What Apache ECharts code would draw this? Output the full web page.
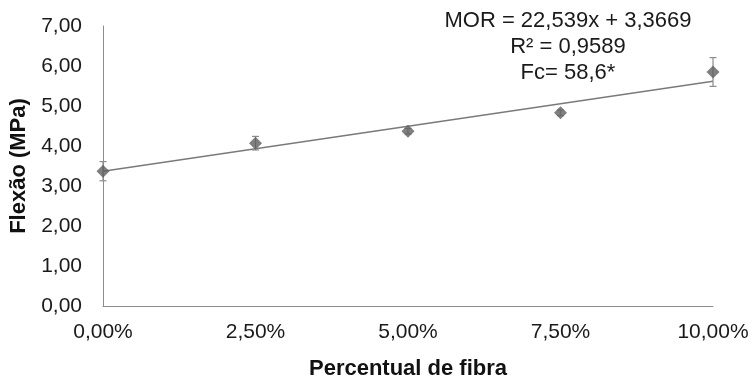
<!DOCTYPE html>
<html>
<head>
<meta charset="utf-8">
<script src="https://cdn.jsdelivr.net/npm/echarts@6/dist/echarts.min.js"></script>
<style>
html,body{margin:0;padding:0;background:#fff;}
#c{width:754px;height:385px;}
</style>
</head>
<body>
<div id="c"></div>
<script>
// Data
const fiberPct = [0, 2.5, 5, 7.5, 10];           // Percentual de fibra (%)
const flexMean = [3.37, 4.07, 4.37, 4.83, 5.85];  // Flexão (MPa)
const flexErr  = [0.24, 0.17, 0.07, 0.07, 0.36];  // error bar half-width (MPa)
const trendSlope = 22.539;      // MOR = 22,539x + 3,3669 (x as fraction)
const trendIntercept = 3.3669;
const trendX = [0, 10];
const yTicks = [0, 1, 2, 3, 4, 5, 6, 7];
const xTicks = [0, 2.5, 5, 7.5, 10];
const annotationLines = ['MOR = 22,539x + 3,3669', 'R² = 0,9589', 'Fc= 58,6*'];

const pts = fiberPct.map((x, i) => [x, flexMean[i]]);
const errData = fiberPct.map((x, i) => [x, flexMean[i] - flexErr[i], flexMean[i] + flexErr[i]]);
const trendData = trendX.map(x => [x, trendSlope * x / 100 + trendIntercept]);

const FONT = '"Liberation Sans", Arial, sans-serif';
const chart = echarts.init(document.getElementById('c'), null, {renderer: 'canvas'});
chart.setOption({
  animation: false,
  backgroundColor: '#fff',
  grid: {left: 103, right: 41, top: 26, bottom: 72, containLabel: false},
  xAxis: {
    type: 'value', min: 0, max: 10, interval: 2.5,
    name: 'Percentual de fibra', nameLocation: 'middle', nameGap: 52,
    nameTextStyle: {fontFamily: FONT, fontSize: 22, fontWeight: 'bold', color: '#111', verticalAlign: 'top'},
    axisLine: {show: true, lineStyle: {color: '#8c8c8c', width: 1}},
    axisTick: {show: false},
    splitLine: {show: false},
    axisLabel: {
      fontFamily: FONT, fontSize: 21, color: '#1a1a1a', margin: 16,
      formatter: v => v.toFixed(2).replace('.', ',') + '%'
    }
  },
  yAxis: {
    type: 'value', min: 0, max: 7, interval: 1,
    name: 'Flexão (MPa)', nameLocation: 'middle', nameGap: 65, nameRotate: 90,
    nameTextStyle: {fontFamily: FONT, fontSize: 22, fontWeight: 'bold', color: '#111'},
    axisLine: {show: true, lineStyle: {color: '#8c8c8c', width: 1}},
    axisTick: {show: false},
    splitLine: {show: false},
    axisLabel: {
      fontFamily: FONT, fontSize: 21, color: '#1a1a1a', margin: 21,
      formatter: v => v.toFixed(2).replace('.', ',')
    }
  },
  graphic: [{
    type: 'text', x: 568, y: 8, z: 10,
    style: {
      text: annotationLines.join('\n'),
      align: 'center', verticalAlign: 'top',
      fontFamily: FONT, fontSize: 22, lineHeight: 26, fill: '#1a1a1a'
    }
  }],
  series: [
    {
      type: 'line', data: trendData, symbol: 'none', z: 2,
      lineStyle: {color: '#7a7a7a', width: 1.5}
    },
    {
      type: 'custom', z: 3,
      data: errData,
      renderItem: function (params, api) {
        const x = api.value(0);
        const lo = api.coord([x, api.value(1)]);
        const hi = api.coord([x, api.value(2)]);
        const cap = 3.5;
        const st = {stroke: '#8c8c8c', lineWidth: 1.2};
        return {
          type: 'group',
          children: [
            {type: 'line', shape: {x1: lo[0], y1: lo[1], x2: hi[0], y2: hi[1]}, style: st},
            {type: 'line', shape: {x1: hi[0] - cap, y1: hi[1], x2: hi[0] + cap, y2: hi[1]}, style: st},
            {type: 'line', shape: {x1: lo[0] - cap, y1: lo[1], x2: lo[0] + cap, y2: lo[1]}, style: st}
          ]
        };
      }
    },
    {
      type: 'scatter', data: pts, symbol: 'diamond', symbolSize: 13, z: 4,
      itemStyle: {color: '#5f5f5f'}
    }
  ]
});
</script>
</body>
</html>
